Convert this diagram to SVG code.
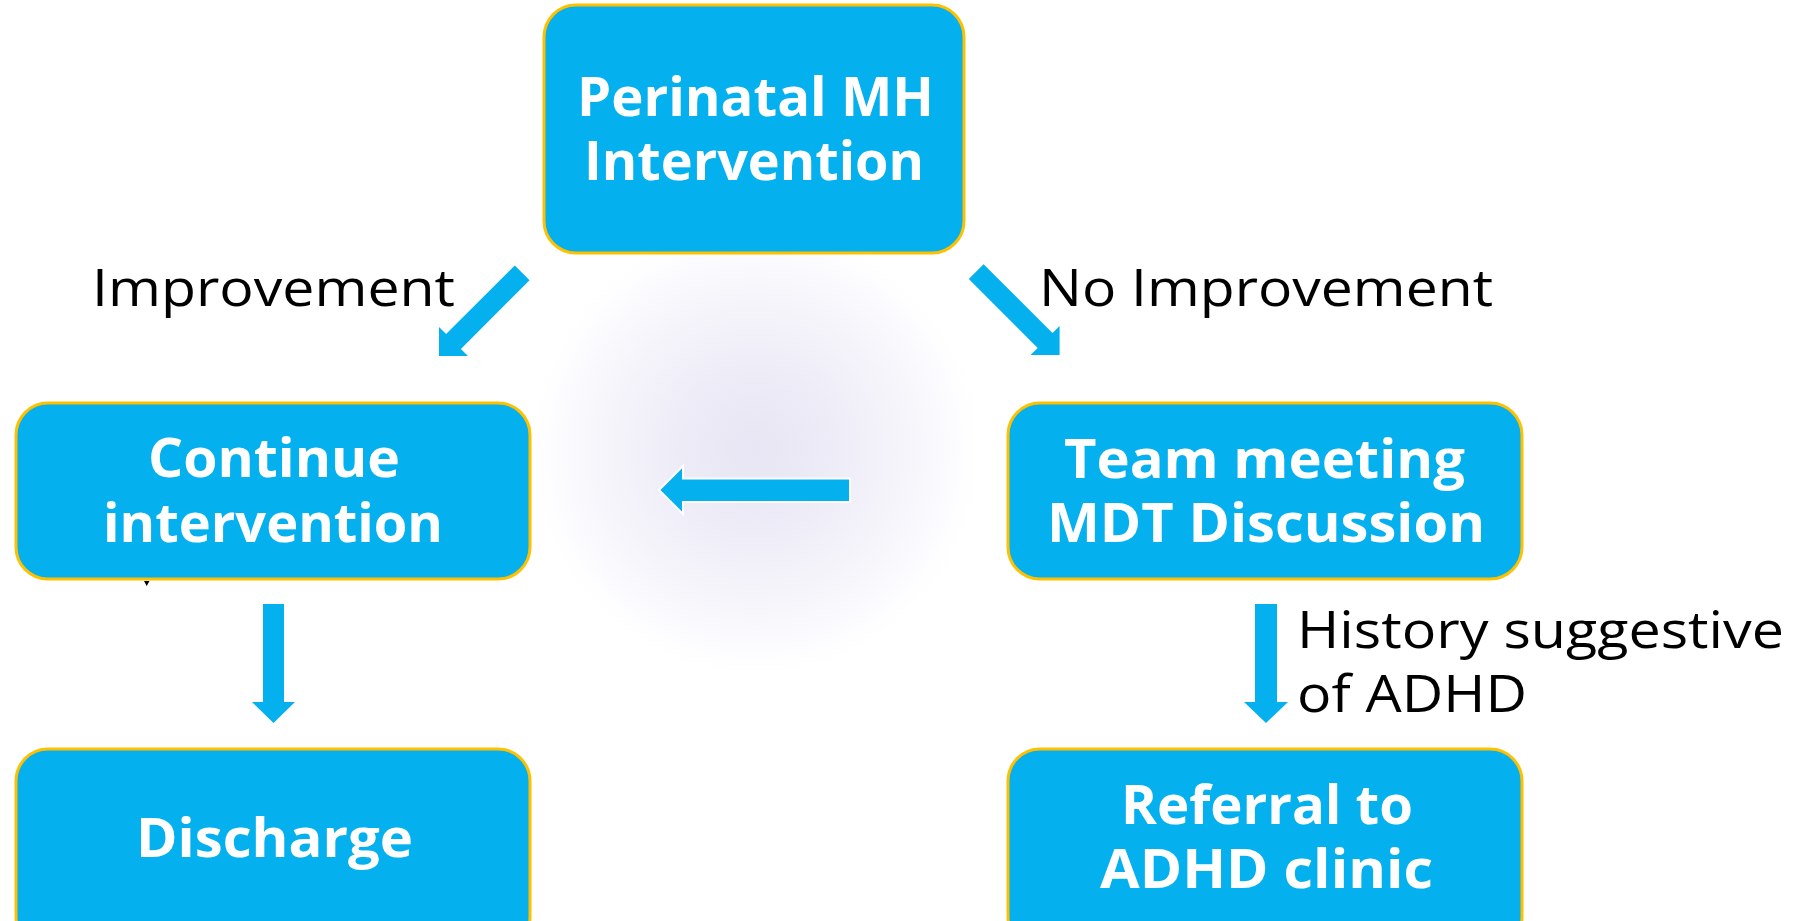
<svg xmlns="http://www.w3.org/2000/svg" width="1806" height="921" viewBox="0 0 1806 921">
<style>
.box{fill:#05B0EF;stroke:#FFC000;stroke-width:3}
.bt{font-family:"Open Sans","Liberation Sans",sans-serif;font-weight:700;font-size:53px;fill:#FFFFFF}
.lb{font-family:"Open Sans","Liberation Sans",sans-serif;font-weight:400;font-size:52px;fill:#000000}
.arr{fill:#05B0EF}
</style>
<defs>
<radialGradient id="glow" cx="755" cy="450" r="235" gradientUnits="userSpaceOnUse">
<stop offset="0" stop-color="#E8E5F4"/>
<stop offset="0.35" stop-color="#EEECF7"/>
<stop offset="0.65" stop-color="#F6F5FB"/>
<stop offset="0.85" stop-color="#FCFBFE"/>
<stop offset="1" stop-color="#FFFFFF" stop-opacity="0"/>
</radialGradient>
</defs>
<rect x="0" y="0" width="1806" height="921" fill="#FFFFFF"/>
<circle cx="755" cy="450" r="235" fill="url(#glow)"/>

<g id="connectors">
<polygon class="arr" points="514.8,265.4 529.6,280.2 460.9,348.9 468,356 439,356 439,327 446.1,334.1"/>
<polygon class="arr" points="983.6,264.2 1052.5,333.1 1059.6,326 1059.6,355 1030.6,355 1037.7,347.9 968.8,279"/>
<polygon class="arr" points="263,604 284,604 284,702 295,702 273.5,723 252,702 263,702"/>
<polygon class="arr" points="1255,604 1277,604 1277,702 1288,702 1266,723 1244,702 1255,702"/>
<polygon class="arr" points="850,478.5 850,502 683,502 683,514 659,490 683,466 683,478.5" stroke="#FFFFFF" stroke-width="2"/>
<polygon points="144,581 149.5,581 146.7,586" fill="#000000"/>
<text class="lb" x="92" y="306" textLength="363" lengthAdjust="spacingAndGlyphs">Improvement</text>
<text class="lb" x="1039" y="306" textLength="454" lengthAdjust="spacingAndGlyphs">No Improvement</text>
<text class="lb" x="1297" y="648" textLength="487" lengthAdjust="spacingAndGlyphs">History suggestive</text>
<text class="lb" x="1297" y="712" textLength="230" lengthAdjust="spacingAndGlyphs">of ADHD</text>
</g>

<g id="perinatal">
<rect class="box" x="544" y="5" width="420" height="248" rx="32" ry="32"/>
<text class="bt" x="577" y="116" textLength="357" lengthAdjust="spacingAndGlyphs">Perinatal MH</text>
<text class="bt" x="584" y="180" textLength="340" lengthAdjust="spacingAndGlyphs">Intervention</text>
</g>

<g id="continue">
<rect class="box" x="16" y="403" width="514" height="176" rx="32" ry="32"/>
<text class="bt" x="148" y="477" textLength="252" lengthAdjust="spacingAndGlyphs">Continue</text>
<text class="bt" x="103" y="542" textLength="340" lengthAdjust="spacingAndGlyphs">intervention</text>
</g>

<g id="team">
<rect class="box" x="1008" y="403" width="514" height="176" rx="32" ry="32"/>
<text class="bt" x="1064" y="478" textLength="401" lengthAdjust="spacingAndGlyphs">Team meeting</text>
<text class="bt" x="1047" y="542" textLength="438" lengthAdjust="spacingAndGlyphs">MDT Discussion</text>
</g>

<g id="discharge">
<rect class="box" x="16" y="749" width="514" height="200" rx="32" ry="32"/>
<text class="bt" x="136" y="857" textLength="277" lengthAdjust="spacingAndGlyphs">Discharge</text>
</g>

<g id="referral">
<rect class="box" x="1008" y="749" width="514" height="200" rx="32" ry="32"/>
<text class="bt" x="1121" y="824" textLength="292" lengthAdjust="spacingAndGlyphs">Referral to</text>
<text class="bt" x="1100" y="888" textLength="333" lengthAdjust="spacingAndGlyphs">ADHD clinic</text>
</g>
</svg>
